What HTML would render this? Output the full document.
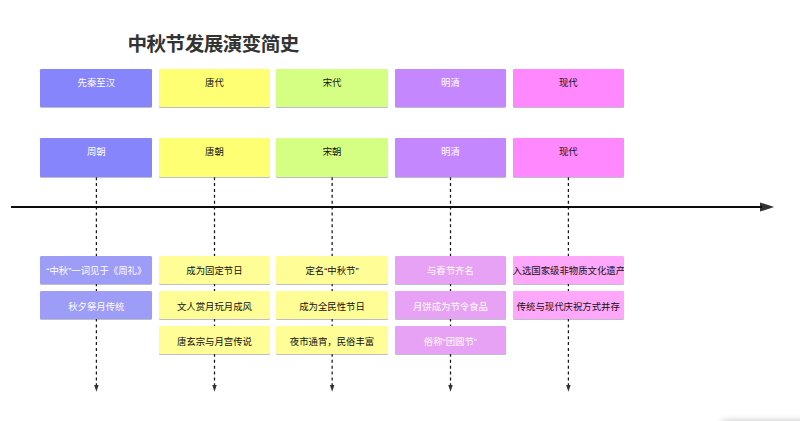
<!DOCTYPE html>
<html lang="zh-CN">
<head>
<meta charset="utf-8">
<title>中秋节发展演变简史</title>
<style>
html,body{margin:0;padding:0;background:#fff;}
body{width:800px;height:421px;position:relative;overflow:hidden;font-family:"Liberation Sans","Noto Sans CJK SC",sans-serif;}
#stage{position:absolute;left:0;top:0;width:800px;height:421px;overflow:hidden;background:#fff;}
h1{position:absolute;left:127.5px;top:31px;margin:0;font-size:19.6px;line-height:26px;font-weight:bold;letter-spacing:-0.55px;white-space:nowrap;color:#333;font-family:"Liberation Sans","Noto Sans CJK SC",sans-serif;}
.b{position:absolute;border-radius:1.2px;box-shadow:0 1px 0.5px rgba(75,72,110,.36);box-sizing:border-box;text-align:center;white-space:nowrap;overflow:hidden;font-size:9.4px;color:#111;font-family:"Liberation Sans","Noto Sans CJK SC",sans-serif;}
.b.w{color:#fff;}
.b span{display:block;position:relative;line-height:14px;}
.l span{top:8.6px;}
.axis{position:absolute;left:11px;top:205.7px;width:751px;height:2.3px;background:#0c0c0c;}
#lines,#ink{position:absolute;left:0;top:0;width:800px;height:421px;pointer-events:none;}
.panel{position:absolute;left:721px;top:422px;width:120px;height:40px;border-radius:6px;background:#fff;box-shadow:0 0 7px 1px rgba(0,0,0,.26);}
</style>
</head>
<body>
<div id="stage">
<h1>中秋节发展演变简史</h1>
<svg id="lines" width="800" height="421" viewBox="0 0 800 421">
<path d="M96.4 177.2V385.6" stroke="#151515" stroke-width="1.25" stroke-dasharray="2.95 2.94" fill="none"/>
<path d="M94.15 385h4.5l-2.25 6.8z" fill="#333"/>
<path d="M214.5 177.2V385.6" stroke="#151515" stroke-width="1.25" stroke-dasharray="2.95 2.94" fill="none"/>
<path d="M212.25 385h4.5l-2.25 6.8z" fill="#333"/>
<path d="M332.15 177.2V385.6" stroke="#151515" stroke-width="1.25" stroke-dasharray="2.95 2.94" fill="none"/>
<path d="M329.9 385h4.5l-2.25 6.8z" fill="#333"/>
<path d="M450.5 177.2V385.6" stroke="#151515" stroke-width="1.25" stroke-dasharray="2.95 2.94" fill="none"/>
<path d="M448.25 385h4.5l-2.25 6.8z" fill="#333"/>
<path d="M568.4 177.2V385.6" stroke="#151515" stroke-width="1.25" stroke-dasharray="2.95 2.94" fill="none"/>
<path d="M566.15 385h4.5l-2.25 6.8z" fill="#333"/>
<path d="M760 202.4L774.2 207L760 211.6z" fill="#333"/>
</svg>
<div class="axis"></div>
<div class="b t w" style="left:40.2px;top:68.7px;width:112.2px;height:38.4px;background:#8685fb"><span style="top:7.5px">先秦至汉</span></div>
<div class="b t w" style="left:40.2px;top:138px;width:112.2px;height:38.8px;background:#8685fb"><span style="top:7.3px">周朝</span></div>
<div class="b l w" style="left:40.2px;top:255.7px;width:112.2px;height:28.2px;background:#9d9cf7"><span>“中秋”一词见于《周礼》</span></div>
<div class="b l w" style="left:40.2px;top:291px;width:112.2px;height:28.2px;background:#9d9cf7"><span>秋夕祭月传统</span></div>
<div class="b t" style="left:158.6px;top:68.7px;width:111.6px;height:38.4px;background:#ffff74"><span style="top:7.5px">唐代</span></div>
<div class="b t" style="left:158.6px;top:138px;width:111.6px;height:38.8px;background:#ffff74"><span style="top:7.3px">唐朝</span></div>
<div class="b l" style="left:158.6px;top:255.7px;width:111.6px;height:28.2px;background:#fffd96"><span>成为固定节日</span></div>
<div class="b l" style="left:158.6px;top:291px;width:111.6px;height:28.2px;background:#fffd96"><span>文人赏月玩月成风</span></div>
<div class="b l" style="left:158.6px;top:326.3px;width:111.6px;height:28.2px;background:#fffd96"><span>唐玄宗与月宫传说</span></div>
<div class="b t" style="left:276.2px;top:68.7px;width:111.7px;height:38.4px;background:#d5ff82"><span style="top:7.5px">宋代</span></div>
<div class="b t" style="left:276.2px;top:138px;width:111.7px;height:38.8px;background:#d5ff82"><span style="top:7.3px">宋朝</span></div>
<div class="b l" style="left:276.2px;top:255.7px;width:111.7px;height:28.2px;background:#fffd96"><span>定名“中秋节”</span></div>
<div class="b l" style="left:276.2px;top:291px;width:111.7px;height:28.2px;background:#fffd96"><span>成为全民性节日</span></div>
<div class="b l" style="left:276.2px;top:326.3px;width:111.7px;height:28.2px;background:#fffd96"><span>夜市通宵，民俗丰富</span></div>
<div class="b t w" style="left:394.5px;top:68.7px;width:111.8px;height:38.4px;background:#c587fd"><span style="top:7.5px">明清</span></div>
<div class="b t w" style="left:394.5px;top:138px;width:111.8px;height:38.8px;background:#c587fd"><span style="top:7.3px">明清</span></div>
<div class="b l w" style="left:394.5px;top:255.7px;width:111.8px;height:28.2px;background:#e8a2f5"><span>与春节齐名</span></div>
<div class="b l w" style="left:394.5px;top:291px;width:111.8px;height:28.2px;background:#e8a2f5"><span>月饼成为节令食品</span></div>
<div class="b l w" style="left:394.5px;top:326.3px;width:111.8px;height:28.2px;background:#e8a2f5"><span>俗称“团圆节”</span></div>
<div class="b t" style="left:512.6px;top:68.7px;width:111.4px;height:38.4px;background:#ff88ff"><span style="top:7.5px">现代</span></div>
<div class="b t" style="left:512.6px;top:138px;width:111.4px;height:38.8px;background:#ff88ff"><span style="top:7.3px">现代</span></div>
<div class="b l" style="left:512.6px;top:255.7px;width:111.4px;height:28.2px;background:#ffa8fb"><span>入选国家级非物质文化遗产</span></div>
<div class="b l" style="left:512.6px;top:291px;width:111.4px;height:28.2px;background:#ffa8fb"><span>传统与现代庆祝方式并存</span></div>
<div class="panel"></div>
</div>
</body>
</html>
